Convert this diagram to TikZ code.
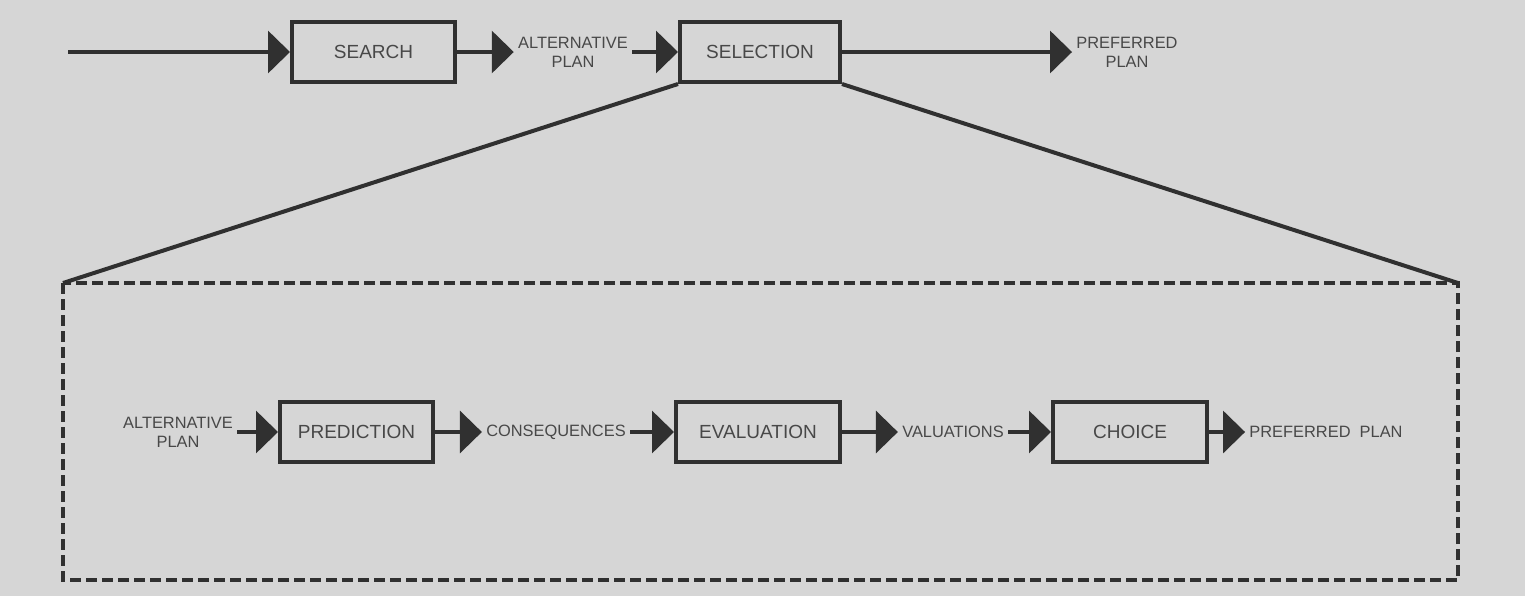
\documentclass[tikz,border=0pt]{standalone}
\usepackage{fontspec}
\setmainfont{Liberation Sans}
\usepackage{xcolor}
\usepackage{tikz}
\usetikzlibrary{arrows.meta}

\definecolor{paper}{RGB}{214,214,214}
\definecolor{ink}{RGB}{48,48,48}
\definecolor{letter}{RGB}{72,72,72}

\tikzset{
    stage/.style={draw=ink, line width=2pt, minimum height=30pt, inner sep=0pt,
        font=\fontsize{9.5}{11}\selectfont, text=letter},
    tag/.style={font=\fontsize{8.2}{9.5}\selectfont, text=letter, align=center, inner sep=2pt},
    flow/.style={ink, line width=1.8pt, -{Triangle[length=11pt,width=21pt]}},
    edge/.style={ink, line width=2pt},
}

\begin{document}
\begin{tikzpicture}[x=0.5pt, y=-0.5pt]
    \fill[paper] (0,0) rectangle (1525,596);
    \useasboundingbox (0,0) rectangle (1525,596);

    \node[stage, minimum width=81.5pt] (search) at (373.5,52) {SEARCH};
    \node[stage, minimum width=80pt] (selection) at (760,52) {SELECTION};
    \node[tag] (alt1) at (573,52) {ALTERNATIVE\\PLAN};
    \node[tag] (pref1) at (1127,52) {PREFERRED\\PLAN};
    \coordinate (start) at (68,52);

    \draw[flow] (start) -- (search.west);
    \draw[flow] (search.east) -- (alt1.west);
    \draw[flow] (alt1.east) -- (selection.west);
    \draw[flow] (selection.east) -- (pref1.west);

    \coordinate (zl) at (63,283);
    \coordinate (zr) at (1458,283);
    \draw[ink, line width=1.7pt, dash pattern=on 5.5pt off 2.5pt] (zl) rectangle (1458,580);
    \draw[edge] (selection.south west) -- (zl);
    \draw[edge] (selection.south east) -- (zr);

    \node[stage, minimum width=76.5pt] (prediction) at (356.5,432) {PREDICTION};
    \node[stage, minimum width=82pt] (evaluation) at (758,432) {EVALUATION};
    \node[stage, minimum width=77pt] (choice) at (1130,432) {CHOICE};
    \node[tag] (alt2) at (178,432) {ALTERNATIVE\\PLAN};
    \node[tag] (cons) at (556,432) {CONSEQUENCES};
    \node[tag] (vals) at (953,432) {VALUATIONS};
    \node[tag] (pref2) at (1326,432) {PREFERRED\ \ PLAN};

    \draw[flow] (alt2.east) -- (prediction.west);
    \draw[flow] (prediction.east) -- (cons.west);
    \draw[flow] (cons.east) -- (evaluation.west);
    \draw[flow] (evaluation.east) -- (vals.west);
    \draw[flow] (vals.east) -- (choice.west);
    \draw[flow] (choice.east) -- (pref2.west);
\end{tikzpicture}
\end{document}
